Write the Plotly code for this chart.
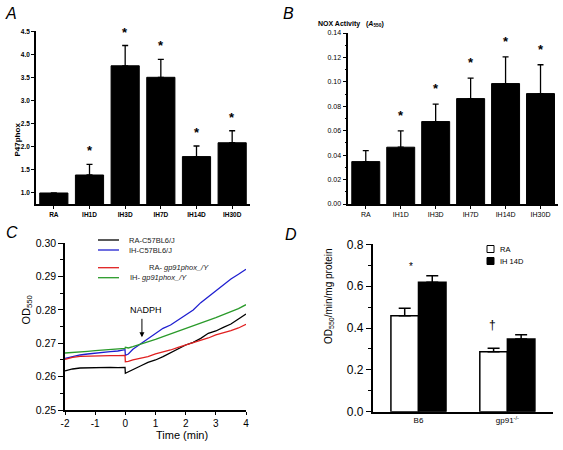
import plotly.graph_objects as go

# ---------------- data ----------------
categories_ab = ["RA", "IH1D", "IH3D", "IH7D", "IH14D", "IH30D"]
p47_mean = [1.0, 1.39, 3.76, 3.51, 1.79, 2.09]
p47_err = [0.0, 0.23, 0.44, 0.39, 0.23, 0.26]
p47_sig = [False, True, True, True, True, True]

nox_mean = [0.0347, 0.0465, 0.0675, 0.0863, 0.0986, 0.0904]
nox_err = [0.0090, 0.0133, 0.0142, 0.0167, 0.0219, 0.0236]
nox_sig = [False, True, True, True, True, True]

time_min = [-2, -1.75, -1.5, -1.25, -1, -0.75, -0.5, -0.25, -0.01, 0.0, 0.1, 0.25, 0.5, 0.75,
            1.0, 1.25, 1.5, 1.75, 2.0, 2.25, 2.5, 2.75, 3.0, 3.25, 3.5, 3.75, 4.0]
ra_c57 = [0.2617, 0.2623, 0.2626, 0.2627, 0.2627, 0.2627, 0.2628, 0.2627, 0.2628, 0.2610, 0.2614,
          0.2622, 0.2632, 0.2643, 0.2650, 0.2660, 0.2672, 0.2684, 0.2695, 0.2703, 0.2715, 0.2730,
          0.2737, 0.2748, 0.2758, 0.2773, 0.2788]
ih_c57 = [0.2655, 0.2661, 0.2665, 0.2668, 0.2671, 0.2673, 0.2675, 0.2677, 0.2681, 0.2664, 0.2668,
          0.2682, 0.2698, 0.2712, 0.2728, 0.2745, 0.2755, 0.2770, 0.2785, 0.2800, 0.2822, 0.2840,
          0.2857, 0.2875, 0.2893, 0.2907, 0.2922]
ra_gp91 = [0.2652, 0.2658, 0.2661, 0.2662, 0.2662, 0.2662, 0.2663, 0.2663, 0.2664, 0.2645, 0.2646,
           0.2650, 0.2655, 0.2660, 0.2668, 0.2673, 0.2680, 0.2688, 0.2695, 0.2702, 0.2708, 0.2716,
           0.2725, 0.2731, 0.2738, 0.2746, 0.2757]
ih_gp91 = [0.2671, 0.2672, 0.2674, 0.2676, 0.2678, 0.2680, 0.2681, 0.2683, 0.2685, 0.2688, 0.2686,
           0.2690, 0.2697, 0.2703, 0.2712, 0.2720, 0.2728, 0.2737, 0.2743, 0.2751, 0.2760, 0.2769,
           0.2777, 0.2786, 0.2795, 0.2804, 0.2816]
series_c = [
    ("RA-C57BL6/J", ra_c57, "#000000"),
    ("IH-C57BL6/J", ih_c57, "#1f1fd0"),
    ("RA- <i>gp91phox_/Y</i>", ra_gp91, "#e02020"),
    ("IH- <i>gp91phox_/Y</i>", ih_gp91, "#2a9a2a"),
]
time_ticks = [-2, -1, 0, 1, 2, 3, 4]
time_tick_text = ["-2", "-1", "0", "1", "2", "3", "4"]
nadph_time = 0.55

groups_d = ["B6", "gp91<sup>-/-</sup>"]
ra_d_mean = [0.459, 0.287]
ra_d_err = [0.035, 0.016]
ih_d_mean = [0.619, 0.3475]
ih_d_err = [0.031, 0.020]

W, H = 563, 450
FONT = "Liberation Sans, Arial, sans-serif"


def px(x):
    return x / W


def py(y):
    return 1 - y / H


fig = go.Figure()

# ---------------- panel A ----------------
fig.add_trace(go.Bar(
    x=categories_ab, y=p47_mean, width=0.79, xaxis="x", yaxis="y",
    marker=dict(color="black", line=dict(color="black", width=1)),
    error_y=dict(type="data", symmetric=False, array=p47_err, arrayminus=[0] * 6,
                 color="black", thickness=1.3, width=3),
    showlegend=False,
))
# ---------------- panel B ----------------
fig.add_trace(go.Bar(
    x=categories_ab, y=nox_mean, width=0.8, xaxis="x2", yaxis="y2",
    marker=dict(color="black", line=dict(color="black", width=1)),
    error_y=dict(type="data", symmetric=False, array=nox_err, arrayminus=[0] * 6,
                 color="black", thickness=1.3, width=3),
    showlegend=False,
))
# ---------------- panel C ----------------
for name, vals, col in series_c:
    fig.add_trace(go.Scatter(
        x=time_min, y=vals, mode="lines", xaxis="x3", yaxis="y3", name=name,
        line=dict(color=col, width=1.3), showlegend=False,
    ))
# ---------------- panel D ----------------
fig.add_trace(go.Bar(
    x=groups_d, y=ra_d_mean, width=0.31, offset=-0.31, xaxis="x4", yaxis="y4",
    marker=dict(color="white", line=dict(color="black", width=1.5)),
    error_y=dict(type="data", symmetric=False, array=ra_d_err, arrayminus=[0, 0],
                 color="black", thickness=1.5, width=6),
    showlegend=False,
))
fig.add_trace(go.Bar(
    x=groups_d, y=ih_d_mean, width=0.31, offset=0.0, xaxis="x4", yaxis="y4",
    marker=dict(color="black", line=dict(color="black", width=1.5)),
    error_y=dict(type="data", symmetric=False, array=ih_d_err, arrayminus=[0, 0],
                 color="black", thickness=1.5, width=6),
    showlegend=False,
))

ax_common = dict(showline=True, linecolor="black", showgrid=False, zeroline=False,
                 ticks="outside", tickcolor="black", automargin=False)

fig.update_layout(
    width=W, height=H, margin=dict(l=0, r=0, t=0, b=0),
    paper_bgcolor="white", plot_bgcolor="white", barmode="overlay",
    font=dict(family=FONT, color="black"),
    xaxis=dict(domain=[px(36), px(250)], anchor="y", range=[-0.5, 5.5], type="category",
               linewidth=1.6, ticklen=3, tickwidth=1.2,
               tickfont=dict(size=6.5, weight="bold"), **ax_common),
    yaxis=dict(domain=[py(204), py(31)], anchor="x", range=[0.761, 4.515],
               tickvals=[1.0, 1.5, 2.0, 2.5, 3.0, 3.5, 4.0, 4.5], tickformat=".1f",
               linewidth=1.6, ticklen=3, tickwidth=1.2,
               tickfont=dict(size=6.5, weight="bold"), **ax_common),
    xaxis2=dict(domain=[px(348.3), px(558)], anchor="y2", range=[-0.5, 5.5], type="category",
                linewidth=1.6, ticklen=3, tickwidth=1.2,
                tickfont=dict(size=7), **ax_common),
    yaxis2=dict(domain=[py(204), py(33)], anchor="x2", range=[0, 0.14], dtick=0.02,
                tickformat=".2f", linewidth=1.6, ticklen=4, tickwidth=1.2,
                minor=dict(dtick=0.01, ticklen=2, tickcolor="black", ticks="outside"),
                tickfont=dict(size=7), **ax_common),
    xaxis3=dict(domain=[px(65), px(246)], anchor="y3", range=[-2, 4],
                tickvals=time_ticks, ticktext=time_tick_text,
                linewidth=1.5, ticklen=3, tickwidth=1.2,
                tickfont=dict(size=10), **ax_common),
    yaxis3=dict(domain=[py(410), py(243.3)], anchor="x3", range=[0.25, 0.30], dtick=0.01,
                tickformat=".2f", linewidth=1.5, ticklen=5, tickwidth=1.2,
                minor=dict(dtick=0.005, ticklen=3, tickcolor="black", ticks="outside"),
                tickfont=dict(size=10.5), **ax_common),
    xaxis4=dict(domain=[px(372.7), px(552.7)], anchor="y4", range=[-0.515, 1.51],
                type="category", linewidth=1.5, showline=True, linecolor="black",
                showgrid=False, zeroline=False, ticks="", automargin=False,
                tickfont=dict(size=8)),
    yaxis4=dict(domain=[py(411.7), py(244.3)], anchor="x4", range=[0, 0.8], dtick=0.2,
                tickformat=".1f", linewidth=1.5, ticklen=5, tickwidth=1.2,
                minor=dict(dtick=0.1, ticklen=3, tickcolor="black", ticks="outside"),
                tickfont=dict(size=12), **ax_common),
)

ann = []
shapes = []

# panel labels
for lab, x, y in [("A", 11, 14), ("B", 288, 14), ("C", 12, 232), ("D", 291, 234)]:
    ann.append(dict(text=f"<i>{lab}</i>", x=px(x), y=py(y), xref="paper", yref="paper",
                    showarrow=False, font=dict(size=16, color="black"),
                    xanchor="center", yanchor="middle"))

# axis titles
ann.append(dict(text="<b>P47phox</b>", x=px(10), y=py(121), xref="paper", yref="paper",
                showarrow=False, textangle=-90, font=dict(size=8, color="black")))
ann.append(dict(text="<b>NOX Activity</b>   <b>(<i>A</i><sub>550</sub>)</b>", x=px(351), y=py(18),
                xref="paper", yref="paper", showarrow=False, font=dict(size=7, color="black")))
ann.append(dict(text="OD<sub>550</sub>", x=px(17), y=py(327), xref="paper", yref="paper",
                showarrow=False, textangle=-90, font=dict(size=11, color="black")))
ann.append(dict(text="Time (min)", x=px(154), y=py(443), xref="paper", yref="paper",
                showarrow=False, font=dict(size=11, color="black")))
ann.append(dict(text="OD<sub>550</sub>/min/mg protein", x=px(329), y=py(346), xref="paper",
                yref="paper", showarrow=False, textangle=-90, font=dict(size=10, color="black")))

# significance stars A / B
for i, c in enumerate(categories_ab):
    if p47_sig[i]:
        ann.append(dict(text="<b>*</b>", x=c, y=p47_mean[i] + p47_err[i], xref="x", yref="y",
                        showarrow=False, yanchor="bottom", yshift=4,
                        font=dict(size=13, color="black")))
    if nox_sig[i]:
        ann.append(dict(text="<b>*</b>", x=c, y=nox_mean[i] + nox_err[i], xref="x2", yref="y2",
                        showarrow=False, yanchor="bottom", yshift=6,
                        font=dict(size=13, color="black")))

# panel C legend (drawn manually)
leg_rows = [(240, 127), (250, 127), (267.7, 147), (277.7, 128)]
for (name, vals, col), (ly, tx) in zip(series_c, leg_rows):
    shapes.append(dict(type="line", xref="paper", yref="paper", x0=px(98), x1=px(119),
                       y0=py(ly), y1=py(ly), line=dict(color=col, width=1.3)))
    ann.append(dict(text=name, x=px(tx), y=py(ly), xref="paper", yref="paper",
                    showarrow=False, xanchor="left", yanchor="middle",
                    font=dict(size=7.5, color="#222")))

# NADPH marker
ann.append(dict(text="NADPH", x=0.69, y=0.2800, xref="x3", yref="y3", showarrow=False,
                font=dict(size=9, color="black")))
ann.append(dict(text="", x=nadph_time, y=0.2718, xref="x3", yref="y3", showarrow=True,
                ax=0, ay=-20, arrowhead=2, arrowsize=1, arrowwidth=1, arrowcolor="black"))

# panel D legend
shapes.append(dict(type="rect", xref="paper", yref="paper", x0=px(487), x1=px(494),
                   y0=py(252.5), y1=py(245.5), line=dict(color="black", width=1),
                   fillcolor="white"))
shapes.append(dict(type="rect", xref="paper", yref="paper", x0=px(487), x1=px(494),
                   y0=py(264.5), y1=py(257.5), line=dict(color="black", width=1),
                   fillcolor="black"))
ann.append(dict(text="RA", x=px(498), y=py(249), xref="paper", yref="paper", showarrow=False,
                xanchor="left", font=dict(size=7.5, color="black")))
ann.append(dict(text="IH 14D", x=px(498), y=py(261), xref="paper", yref="paper",
                showarrow=False, xanchor="left", font=dict(size=7.5, color="black")))

# panel D marks
ann.append(dict(text="*", x=groups_d[0], y=ih_d_mean[0] + ih_d_err[0], xref="x4", yref="y4",
                xshift=-7, yshift=2, showarrow=False, yanchor="bottom",
                font=dict(size=10, color="black")))
ann.append(dict(text="†", x=groups_d[1], y=ra_d_mean[1] + ra_d_err[1], xref="x4", yref="y4",
                xshift=-15, yshift=14, showarrow=False, yanchor="bottom",
                font=dict(size=12, color="black")))

fig.update_layout(annotations=ann, shapes=shapes)
fig.write_html("out.html", config={"displayModeBar": False},
               post_script="document.body.style.margin='0px';")
